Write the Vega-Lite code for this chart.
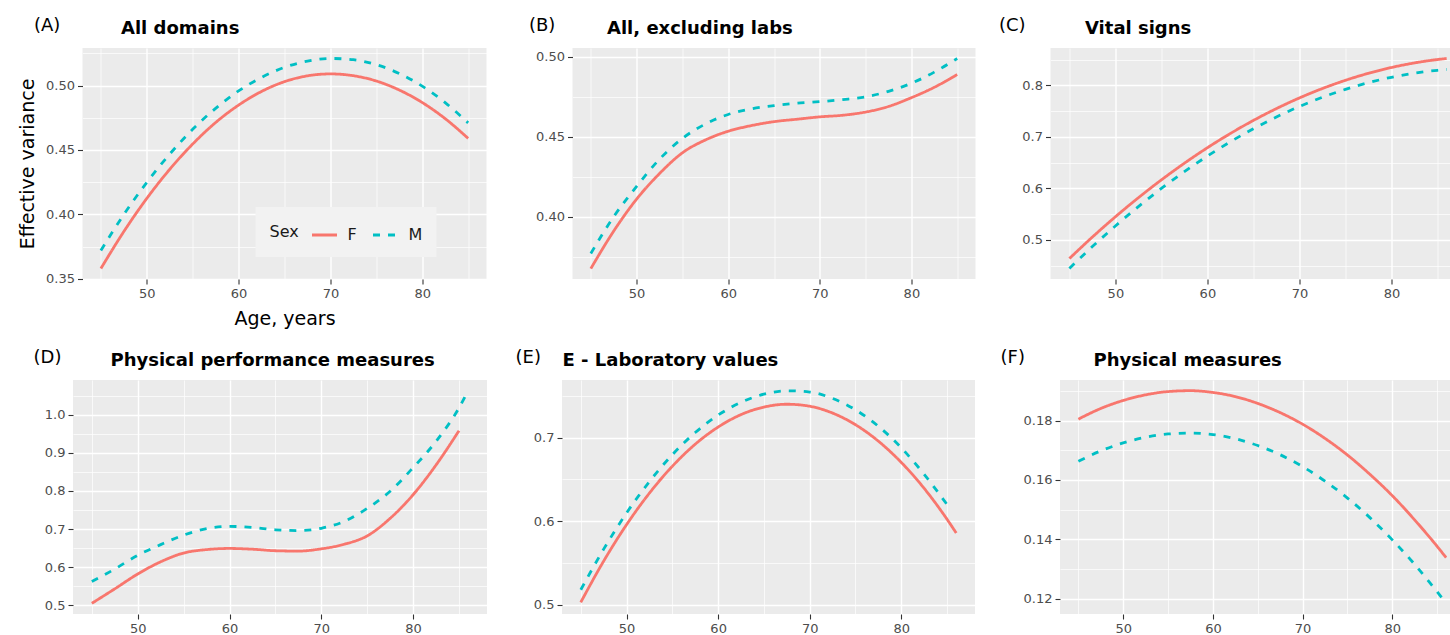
{
  "$schema": "https://vega.github.io/schema/vega-lite/v6.json",
  "padding": {"left": 18, "top": 16, "right": 0, "bottom": 0},
  "background": "white",
  "config": {
    "font": "DejaVu Sans",
    "view": {"fill": "#EBEBEB", "stroke": null},
    "line": {"strokeWidth": 2.8, "interpolate": "monotone"},
    "axis": {"domain": false, "grid": true, "gridColor": "#FFFFFF", "gridWidth": 1.4, "gridOpacity": 1, "ticks": true, "tickColor": "#333333", "tickSize": 5, "tickWidth": 1.1, "labelFont": "DejaVu Sans", "labelFontSize": 13, "labelColor": "#4D4D4D", "labelPadding": 3, "titleFont": "DejaVu Sans", "titleFontSize": 19, "titleFontWeight": "normal", "titleColor": "#000000"}
  },
  "datasets": {
    "A": [
      {"a":45,"s":"F","v":0.358},{"a":47.5,"s":"F","v":0.3867},{"a":50,"s":"F","v":0.4124},{"a":52.5,"s":"F","v":0.435},{"a":55,"s":"F","v":0.4546},{"a":57.5,"s":"F","v":0.4713},{"a":60,"s":"F","v":0.4848},{"a":62.5,"s":"F","v":0.4954},{"a":65,"s":"F","v":0.503},{"a":67.5,"s":"F","v":0.5075},{"a":70,"s":"F","v":0.509},{"a":72.5,"s":"F","v":0.5076},{"a":75,"s":"F","v":0.5035},{"a":77.5,"s":"F","v":0.4965},{"a":80,"s":"F","v":0.4868},{"a":82.5,"s":"F","v":0.4743},{"a":85,"s":"F","v":0.459},
      {"a":45,"s":"M","v":0.372},{"a":47.5,"s":"M","v":0.3999},{"a":50,"s":"M","v":0.4248},{"a":52.5,"s":"M","v":0.4468},{"a":55,"s":"M","v":0.466},{"a":57.5,"s":"M","v":0.4823},{"a":60,"s":"M","v":0.4958},{"a":62.5,"s":"M","v":0.5063},{"a":65,"s":"M","v":0.5141},{"a":67.5,"s":"M","v":0.5189},{"a":70,"s":"M","v":0.521},{"a":72.5,"s":"M","v":0.52},{"a":75,"s":"M","v":0.5162},{"a":77.5,"s":"M","v":0.5093},{"a":80,"s":"M","v":0.4995},{"a":82.5,"s":"M","v":0.4867},{"a":85,"s":"M","v":0.471}
    ],
    "B": [
      {"a":45,"s":"F","v":0.3675},{"a":47.5,"s":"F","v":0.391},{"a":50,"s":"F","v":0.411},{"a":52.5,"s":"F","v":0.427},{"a":55,"s":"F","v":0.44},{"a":57.5,"s":"F","v":0.448},{"a":60,"s":"F","v":0.4535},{"a":62.5,"s":"F","v":0.457},{"a":65,"s":"F","v":0.4595},{"a":67.5,"s":"F","v":0.461},{"a":70,"s":"F","v":0.4625},{"a":72.5,"s":"F","v":0.4635},{"a":75,"s":"F","v":0.4655},{"a":77.5,"s":"F","v":0.469},{"a":80,"s":"F","v":0.4745},{"a":82.5,"s":"F","v":0.481},{"a":85,"s":"F","v":0.489},
      {"a":45,"s":"M","v":0.377},{"a":47.5,"s":"M","v":0.4},{"a":50,"s":"M","v":0.419},{"a":52.5,"s":"M","v":0.436},{"a":55,"s":"M","v":0.449},{"a":57.5,"s":"M","v":0.458},{"a":60,"s":"M","v":0.464},{"a":62.5,"s":"M","v":0.4675},{"a":65,"s":"M","v":0.4695},{"a":67.5,"s":"M","v":0.471},{"a":70,"s":"M","v":0.472},{"a":72.5,"s":"M","v":0.4733},{"a":75,"s":"M","v":0.475},{"a":77.5,"s":"M","v":0.4785},{"a":80,"s":"M","v":0.4835},{"a":82.5,"s":"M","v":0.4905},{"a":85,"s":"M","v":0.499}
    ],
    "C": [
      {"a":45,"s":"F","v":0.4635},{"a":47.5,"s":"F","v":0.5053},{"a":50,"s":"F","v":0.5447},{"a":52.5,"s":"F","v":0.5818},{"a":55,"s":"F","v":0.6165},{"a":57.5,"s":"F","v":0.6489},{"a":60,"s":"F","v":0.679},{"a":62.5,"s":"F","v":0.7067},{"a":65,"s":"F","v":0.7321},{"a":67.5,"s":"F","v":0.7551},{"a":70,"s":"F","v":0.7758},{"a":72.5,"s":"F","v":0.7941},{"a":75,"s":"F","v":0.8101},{"a":77.5,"s":"F","v":0.8237},{"a":80,"s":"F","v":0.835},{"a":82.5,"s":"F","v":0.8439},{"a":85,"s":"F","v":0.8505},{"a":86,"s":"F","v":0.8525},
      {"a":45,"s":"M","v":0.4442},{"a":47.5,"s":"M","v":0.4868},{"a":50,"s":"M","v":0.5269},{"a":52.5,"s":"M","v":0.5646},{"a":55,"s":"M","v":0.5998},{"a":57.5,"s":"M","v":0.6325},{"a":60,"s":"M","v":0.6628},{"a":62.5,"s":"M","v":0.6906},{"a":65,"s":"M","v":0.7159},{"a":67.5,"s":"M","v":0.7388},{"a":70,"s":"M","v":0.7592},{"a":72.5,"s":"M","v":0.7771},{"a":75,"s":"M","v":0.7925},{"a":77.5,"s":"M","v":0.8055},{"a":80,"s":"M","v":0.816},{"a":82.5,"s":"M","v":0.8241},{"a":85,"s":"M","v":0.8296},{"a":86,"s":"M","v":0.8312}
    ],
    "D": [
      {"a":45,"s":"F","v":0.505},{"a":47.5,"s":"F","v":0.543},{"a":50,"s":"F","v":0.582},{"a":52.5,"s":"F","v":0.614},{"a":55,"s":"F","v":0.637},{"a":57.5,"s":"F","v":0.646},{"a":60,"s":"F","v":0.649},{"a":62.5,"s":"F","v":0.647},{"a":65,"s":"F","v":0.643},{"a":67.5,"s":"F","v":0.642},{"a":70,"s":"F","v":0.648},{"a":72.5,"s":"F","v":0.66},{"a":75,"s":"F","v":0.682},{"a":77.5,"s":"F","v":0.728},{"a":80,"s":"F","v":0.79},{"a":82.5,"s":"F","v":0.868},{"a":85,"s":"F","v":0.958},
      {"a":45,"s":"M","v":0.562},{"a":47.5,"s":"M","v":0.595},{"a":50,"s":"M","v":0.631},{"a":52.5,"s":"M","v":0.659},{"a":55,"s":"M","v":0.684},{"a":57.5,"s":"M","v":0.701},{"a":60,"s":"M","v":0.707},{"a":62.5,"s":"M","v":0.704},{"a":65,"s":"M","v":0.698},{"a":67.5,"s":"M","v":0.696},{"a":70,"s":"M","v":0.702},{"a":72.5,"s":"M","v":0.72},{"a":75,"s":"M","v":0.754},{"a":77.5,"s":"M","v":0.799},{"a":80,"s":"M","v":0.861},{"a":82.5,"s":"M","v":0.93},{"a":85,"s":"M","v":1.018},{"a":86,"s":"M","v":1.063}
    ],
    "E": [
      {"a":45,"s":"F","v":0.503},{"a":47.5,"s":"F","v":0.5523},{"a":50,"s":"F","v":0.5959},{"a":52.5,"s":"F","v":0.6337},{"a":55,"s":"F","v":0.6658},{"a":57.5,"s":"F","v":0.6922},{"a":60,"s":"F","v":0.7127},{"a":62.5,"s":"F","v":0.7276},{"a":65,"s":"F","v":0.7366},{"a":67.5,"s":"F","v":0.74},{"a":70,"s":"F","v":0.7376},{"a":72.5,"s":"F","v":0.7294},{"a":75,"s":"F","v":0.7155},{"a":77.5,"s":"F","v":0.6958},{"a":80,"s":"F","v":0.6704},{"a":82.5,"s":"F","v":0.6393},{"a":85,"s":"F","v":0.6023},{"a":86,"s":"F","v":0.5859},
      {"a":45,"s":"M","v":0.518},{"a":47.5,"s":"M","v":0.5666},{"a":50,"s":"M","v":0.6099},{"a":52.5,"s":"M","v":0.6475},{"a":55,"s":"M","v":0.6796},{"a":57.5,"s":"M","v":0.7061},{"a":60,"s":"M","v":0.727},{"a":62.5,"s":"M","v":0.7423},{"a":65,"s":"M","v":0.752},{"a":67.5,"s":"M","v":0.7561},{"a":70,"s":"M","v":0.7546},{"a":72.5,"s":"M","v":0.747},{"a":75,"s":"M","v":0.7333},{"a":77.5,"s":"M","v":0.7136},{"a":80,"s":"M","v":0.6879},{"a":82.5,"s":"M","v":0.6561},{"a":85,"s":"M","v":0.62}
    ],
    "F": [
      {"a":45,"s":"F","v":0.1805},{"a":47.5,"s":"F","v":0.1841},{"a":50,"s":"F","v":0.1868},{"a":52.5,"s":"F","v":0.1887},{"a":55,"s":"F","v":0.1898},{"a":57.5,"s":"F","v":0.1901},{"a":60,"s":"F","v":0.1895},{"a":62.5,"s":"F","v":0.1881},{"a":65,"s":"F","v":0.1858},{"a":67.5,"s":"F","v":0.1827},{"a":70,"s":"F","v":0.1788},{"a":72.5,"s":"F","v":0.174},{"a":75,"s":"F","v":0.1684},{"a":77.5,"s":"F","v":0.1619},{"a":80,"s":"F","v":0.1547},{"a":82.5,"s":"F","v":0.1465},{"a":85,"s":"F","v":0.1376},{"a":86,"s":"F","v":0.1338},
      {"a":45,"s":"M","v":0.1663},{"a":47.5,"s":"M","v":0.1698},{"a":50,"s":"M","v":0.1725},{"a":52.5,"s":"M","v":0.1744},{"a":55,"s":"M","v":0.1755},{"a":57.5,"s":"M","v":0.1758},{"a":60,"s":"M","v":0.1753},{"a":62.5,"s":"M","v":0.1739},{"a":65,"s":"M","v":0.1716},{"a":67.5,"s":"M","v":0.1685},{"a":70,"s":"M","v":0.1645},{"a":72.5,"s":"M","v":0.1596},{"a":75,"s":"M","v":0.1539},{"a":77.5,"s":"M","v":0.1473},{"a":80,"s":"M","v":0.1398},{"a":82.5,"s":"M","v":0.1315},{"a":85,"s":"M","v":0.1223},{"a":86,"s":"M","v":0.1184}
    ]
  },
  "spacing": 20,
  "center": true,
  "resolve": {"scale": {"color": "independent", "strokeDash": "independent"}},
  "vconcat": [
    {
      "spacing": 42,
      "resolve": {"scale": {"color": "independent", "strokeDash": "independent"}},
      "hconcat": [
        {
          "width": 404, "height": 231,
          "data": {"name": "A"},
          "layer": [
            {"mark": {"type": "line"},
             "encoding": {
               "x": {"field": "a", "type": "quantitative", "scale": {"domain": [43, 87], "nice": false, "zero": false},
                     "axis": {"values": [50, 60, 70, 80], "title": "Age, years", "titleX": 202, "titleY": 45, "titleAlign": "center", "titleBaseline": "alphabetic", "titleAngle": 0}},
               "y": {"field": "v", "type": "quantitative", "scale": {"domain": [0.3499, 0.5291], "nice": false, "zero": false},
                     "axis": {"values": [0.35, 0.4, 0.45, 0.5], "format": ".2f", "title": "Effective variance", "titleX": -49, "titleY": 115.5, "titleAngle": 270, "titleAlign": "center", "titleBaseline": "alphabetic"}},
               "color": {"field": "s", "type": "nominal", "scale": {"domain": ["F", "M"], "range": ["#F8766D", "#00BFC4"]},
                         "legend": {"title": "Sex", "orient": "none", "legendX": 173, "legendY": 159, "direction": "horizontal", "titleOrient": "left", "titleAnchor": "middle", "titleBaseline": "middle", "titleAngle": 0, "fillColor": "#F2F2F2", "padding": 14, "symbolType": "stroke", "symbolSize": 625, "symbolStrokeWidth": 2.8, "labelFontSize": 16, "titleFontSize": 16, "titleFontWeight": "normal", "labelOffset": 9, "columnPadding": 9, "titlePadding": 11, "titleColor": "#1A1A1A", "labelColor": "#1A1A1A", "labelFont": "DejaVu Sans", "titleFont": "DejaVu Sans"}},
               "strokeDash": {"field": "s", "type": "nominal", "scale": {"domain": ["F", "M"], "range": [[1, 0], [7, 8]]},
                         "legend": {"title": "Sex", "orient": "none", "legendX": 173, "legendY": 159, "direction": "horizontal", "titleOrient": "left", "titleAnchor": "middle", "titleBaseline": "middle", "titleAngle": 0, "fillColor": "#F2F2F2", "padding": 14, "symbolType": "stroke", "symbolSize": 625, "symbolStrokeWidth": 2.8, "labelFontSize": 16, "titleFontSize": 16, "titleFontWeight": "normal", "labelOffset": 9, "columnPadding": 9, "titlePadding": 11, "titleColor": "#1A1A1A", "labelColor": "#1A1A1A", "labelFont": "DejaVu Sans", "titleFont": "DejaVu Sans"}}
             }},
            {"mark": {"type": "line", "opacity": 0},
             "encoding": {
               "x": {"field": "a", "type": "quantitative", "scale": {"domain": [43, 87], "nice": false, "zero": false},
                     "axis": {"orient": "top", "values": [45, 55, 65, 75, 85], "grid": true, "gridWidth": 0.7, "labels": false, "ticks": false, "title": "All domains", "titleFontWeight": "bold", "titleFontSize": 18, "titleX": 38, "titleY": -15, "titleAlign": "left", "titleBaseline": "alphabetic", "titleAngle": 0}},
               "y": {"field": "v", "type": "quantitative", "scale": {"domain": [0.3499, 0.5291], "nice": false, "zero": false},
                     "axis": {"orient": "left", "values": [0.375, 0.425, 0.475, 0.525], "grid": true, "gridWidth": 0.7, "labels": false, "ticks": false, "title": "(A)", "titleFontSize": 18, "titleX": -49, "titleY": -18, "titleAlign": "left", "titleBaseline": "alphabetic", "titleAngle": 0}},
               "detail": {"field": "s"}
             }}
          ],
          "resolve": {"axis": {"x": "independent", "y": "independent"}}
        },
        {
          "spacing": 23,
          "resolve": {"scale": {"color": "independent", "strokeDash": "independent"}},
          "hconcat": [
            {
              "width": 403, "height": 231,
              "data": {"name": "B"},
              "layer": [
                {"mark": {"type": "line"},
                 "encoding": {
                   "x": {"field": "a", "type": "quantitative", "scale": {"domain": [43, 87], "nice": false, "zero": false}, "axis": {"values": [50, 60, 70, 80], "title": null}},
                   "y": {"field": "v", "type": "quantitative", "scale": {"domain": [0.361, 0.5056], "nice": false, "zero": false}, "axis": {"values": [0.4, 0.45, 0.5], "format": ".2f", "title": null}},
                   "color": {"field": "s", "type": "nominal", "scale": {"domain": ["F", "M"], "range": ["#F8766D", "#00BFC4"]}, "legend": null},
                   "strokeDash": {"field": "s", "type": "nominal", "scale": {"domain": ["F", "M"], "range": [[1, 0], [7, 8]]}, "legend": null}
                 }},
                {"mark": {"type": "line", "opacity": 0},
                 "encoding": {
                   "x": {"field": "a", "type": "quantitative", "scale": {"domain": [43, 87], "nice": false, "zero": false},
                         "axis": {"orient": "top", "values": [45, 55, 65, 75, 85], "grid": true, "gridWidth": 0.7, "labels": false, "ticks": false, "title": "All, excluding labs", "titleFontWeight": "bold", "titleFontSize": 18, "titleX": 34, "titleY": -15, "titleAlign": "left", "titleBaseline": "alphabetic", "titleAngle": 0}},
                   "y": {"field": "v", "type": "quantitative", "scale": {"domain": [0.361, 0.5056], "nice": false, "zero": false},
                         "axis": {"orient": "left", "values": [0.375, 0.425, 0.475], "grid": true, "gridWidth": 0.7, "labels": false, "ticks": false, "title": "(B)", "titleFontSize": 18, "titleX": -44, "titleY": -18, "titleAlign": "left", "titleBaseline": "alphabetic", "titleAngle": 0}},
                   "detail": {"field": "s"}
                 }}
              ],
              "resolve": {"axis": {"x": "independent", "y": "independent"}}
            },
            {
              "width": 415, "height": 231,
              "data": {"name": "C"},
              "layer": [
                {"mark": {"type": "line"},
                 "encoding": {
                   "x": {"field": "a", "type": "quantitative", "scale": {"domain": [42.95, 88.05], "nice": false, "zero": false}, "axis": {"values": [50, 60, 70, 80], "title": null}},
                   "y": {"field": "v", "type": "quantitative", "scale": {"domain": [0.4238, 0.8729], "nice": false, "zero": false}, "axis": {"values": [0.5, 0.6, 0.7, 0.8], "format": ".1f", "title": null}},
                   "color": {"field": "s", "type": "nominal", "scale": {"domain": ["F", "M"], "range": ["#F8766D", "#00BFC4"]}, "legend": null},
                   "strokeDash": {"field": "s", "type": "nominal", "scale": {"domain": ["F", "M"], "range": [[1, 0], [7, 8]]}, "legend": null}
                 }},
                {"mark": {"type": "line", "opacity": 0},
                 "encoding": {
                   "x": {"field": "a", "type": "quantitative", "scale": {"domain": [42.95, 88.05], "nice": false, "zero": false},
                         "axis": {"orient": "top", "values": [45, 55, 65, 75, 85], "grid": true, "gridWidth": 0.7, "labels": false, "ticks": false, "title": "Vital signs", "titleFontWeight": "bold", "titleFontSize": 18, "titleX": 34, "titleY": -15, "titleAlign": "left", "titleBaseline": "alphabetic", "titleAngle": 0}},
                   "y": {"field": "v", "type": "quantitative", "scale": {"domain": [0.4238, 0.8729], "nice": false, "zero": false},
                         "axis": {"orient": "left", "values": [0.45, 0.55, 0.65, 0.75, 0.85], "grid": true, "gridWidth": 0.7, "labels": false, "ticks": false, "title": "(C)", "titleFontSize": 18, "titleX": -52, "titleY": -18, "titleAlign": "left", "titleBaseline": "alphabetic", "titleAngle": 0}},
                   "detail": {"field": "s"}
                 }}
              ],
              "resolve": {"axis": {"x": "independent", "y": "independent"}}
            }
          ]
        }
      ]
    },
    {
      "spacing": 28,
      "resolve": {"scale": {"color": "independent", "strokeDash": "independent"}},
      "hconcat": [
        {
          "width": 414, "height": 234,
          "data": {"name": "D"},
          "layer": [
            {"mark": {"type": "line"},
             "encoding": {
               "x": {"field": "a", "type": "quantitative", "scale": {"domain": [42.95, 88.05], "nice": false, "zero": false}, "axis": {"values": [50, 60, 70, 80], "title": null}},
               "y": {"field": "v", "type": "quantitative", "scale": {"domain": [0.477, 1.091], "nice": false, "zero": false}, "axis": {"values": [0.5, 0.6, 0.7, 0.8, 0.9, 1.0], "format": ".1f", "title": null}},
               "color": {"field": "s", "type": "nominal", "scale": {"domain": ["F", "M"], "range": ["#F8766D", "#00BFC4"]}, "legend": null},
               "strokeDash": {"field": "s", "type": "nominal", "scale": {"domain": ["F", "M"], "range": [[1, 0], [7, 8]]}, "legend": null}
             }},
            {"mark": {"type": "line", "opacity": 0},
             "encoding": {
               "x": {"field": "a", "type": "quantitative", "scale": {"domain": [42.95, 88.05], "nice": false, "zero": false},
                     "axis": {"orient": "top", "values": [45, 55, 65, 75, 85], "grid": true, "gridWidth": 0.7, "labels": false, "ticks": false, "title": "Physical performance measures", "titleFontWeight": "bold", "titleFontSize": 18, "titleX": 37, "titleY": -15, "titleAlign": "left", "titleBaseline": "alphabetic", "titleAngle": 0}},
               "y": {"field": "v", "type": "quantitative", "scale": {"domain": [0.477, 1.091], "nice": false, "zero": false},
                     "axis": {"orient": "left", "values": [0.55, 0.65, 0.75, 0.85, 0.95, 1.05], "grid": true, "gridWidth": 0.7, "labels": false, "ticks": false, "title": "(D)", "titleFontSize": 18, "titleX": -40, "titleY": -18, "titleAlign": "left", "titleBaseline": "alphabetic", "titleAngle": 0}},
               "detail": {"field": "s"}
             }}
          ],
          "resolve": {"axis": {"x": "independent", "y": "independent"}}
        },
        {
          "spacing": 25,
          "resolve": {"scale": {"color": "independent", "strokeDash": "independent"}},
          "hconcat": [
            {
              "width": 413, "height": 234,
              "data": {"name": "E"},
              "layer": [
                {"mark": {"type": "line"},
                 "encoding": {
                   "x": {"field": "a", "type": "quantitative", "scale": {"domain": [42.95, 88.05], "nice": false, "zero": false}, "axis": {"values": [50, 60, 70, 80], "title": null}},
                   "y": {"field": "v", "type": "quantitative", "scale": {"domain": [0.489, 0.769], "nice": false, "zero": false}, "axis": {"values": [0.5, 0.6, 0.7], "format": ".1f", "title": null}},
                   "color": {"field": "s", "type": "nominal", "scale": {"domain": ["F", "M"], "range": ["#F8766D", "#00BFC4"]}, "legend": null},
                   "strokeDash": {"field": "s", "type": "nominal", "scale": {"domain": ["F", "M"], "range": [[1, 0], [7, 8]]}, "legend": null}
                 }},
                {"mark": {"type": "line", "opacity": 0},
                 "encoding": {
                   "x": {"field": "a", "type": "quantitative", "scale": {"domain": [42.95, 88.05], "nice": false, "zero": false},
                         "axis": {"orient": "top", "values": [45, 55, 65, 75, 85], "grid": true, "gridWidth": 0.7, "labels": false, "ticks": false, "title": "E - Laboratory values", "titleFontWeight": "bold", "titleFontSize": 18, "titleX": 0, "titleY": -15, "titleAlign": "left", "titleBaseline": "alphabetic", "titleAngle": 0}},
                   "y": {"field": "v", "type": "quantitative", "scale": {"domain": [0.489, 0.769], "nice": false, "zero": false},
                         "axis": {"orient": "left", "values": [0.55, 0.65, 0.75], "grid": true, "gridWidth": 0.7, "labels": false, "ticks": false, "title": "(E)", "titleFontSize": 18, "titleX": -47, "titleY": -18, "titleAlign": "left", "titleBaseline": "alphabetic", "titleAngle": 0}},
                   "detail": {"field": "s"}
                 }}
              ],
              "resolve": {"axis": {"x": "independent", "y": "independent"}}
            },
            {
              "width": 415, "height": 234,
              "data": {"name": "F"},
              "layer": [
                {"mark": {"type": "line"},
                 "encoding": {
                   "x": {"field": "a", "type": "quantitative", "scale": {"domain": [42.95, 89.22], "nice": false, "zero": false}, "axis": {"values": [50, 60, 70, 80], "title": null}},
                   "y": {"field": "v", "type": "quantitative", "scale": {"domain": [0.1148, 0.1937], "nice": false, "zero": false}, "axis": {"values": [0.12, 0.14, 0.16, 0.18], "format": ".2f", "title": null}},
                   "color": {"field": "s", "type": "nominal", "scale": {"domain": ["F", "M"], "range": ["#F8766D", "#00BFC4"]}, "legend": null},
                   "strokeDash": {"field": "s", "type": "nominal", "scale": {"domain": ["F", "M"], "range": [[1, 0], [7, 8]]}, "legend": null}
                 }},
                {"mark": {"type": "line", "opacity": 0},
                 "encoding": {
                   "x": {"field": "a", "type": "quantitative", "scale": {"domain": [42.95, 89.22], "nice": false, "zero": false},
                         "axis": {"orient": "top", "values": [45, 55, 65, 75, 85], "grid": true, "gridWidth": 0.7, "labels": false, "ticks": false, "title": "Physical measures", "titleFontWeight": "bold", "titleFontSize": 18, "titleX": 33, "titleY": -15, "titleAlign": "left", "titleBaseline": "alphabetic", "titleAngle": 0}},
                   "y": {"field": "v", "type": "quantitative", "scale": {"domain": [0.1148, 0.1937], "nice": false, "zero": false},
                         "axis": {"orient": "left", "values": [0.13, 0.15, 0.17, 0.19], "grid": true, "gridWidth": 0.7, "labels": false, "ticks": false, "title": "(F)", "titleFontSize": 18, "titleX": -60, "titleY": -18, "titleAlign": "left", "titleBaseline": "alphabetic", "titleAngle": 0}},
                   "detail": {"field": "s"}
                 }}
              ],
              "resolve": {"axis": {"x": "independent", "y": "independent"}}
            }
          ]
        }
      ]
    }
  ]
}
